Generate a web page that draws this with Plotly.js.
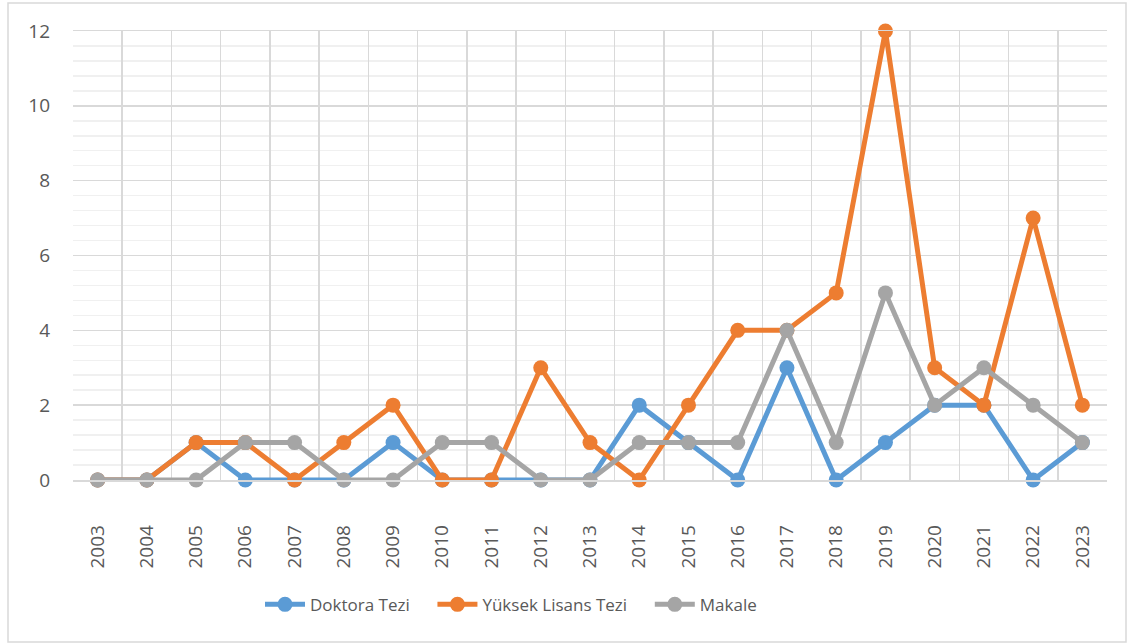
<!DOCTYPE html>
<html>
<head>
<meta charset="utf-8">
<script src="https://cdn.plot.ly/plotly-3.0.1.min.js"></script>
<style>html,body{margin:0;padding:0;background:#fff;}#chart{width:1134px;height:644px;}</style>
</head>
<body>
<div id="chart"></div>
<script>
const years = ["2003","2004","2005","2006","2007","2008","2009","2010","2011","2012","2013","2014","2015","2016","2017","2018","2019","2020","2021","2022","2023"];
const doktora = [0,0,1,0,0,0,1,0,0,0,0,2,1,0,3,0,1,2,2,0,1];
const yuksekLisans = [0,0,1,1,0,1,2,0,0,3,1,0,2,4,4,5,12,3,2,7,2];
const makale = [0,0,0,1,1,0,0,1,1,0,0,1,1,1,4,1,5,2,3,2,1];
const seriesNames = ["Doktora Tezi","Yüksek Lisans Tezi","Makale"];
const colors = ["#5B9BD5","#ED7D31","#A5A5A5"];

const pad = "\u00a0\u00a0\u00a0\u00a0";
const vals = [doktora, yuksekLisans, makale];
const traces = vals.map((v,i)=>({
  type:'scatter', mode:'lines+markers', x:years, y:v,
  name: seriesNames[i] + (i < 2 ? pad : ""),
  line:{color:colors[i], width:5},
  marker:{color:colors[i], size:15},
  cliponaxis:false
}));

const layout = {
  width:1134, height:644,
  margin:{l:73, r:27, t:31, b:164},
  paper_bgcolor:'#fff', plot_bgcolor:'#fff',
  font:{family:'"Open Sans", "Noto Sans", sans-serif', color:'#595959', size:18},
  showlegend:true,
  legend:{orientation:'h', x:0.4236, xanchor:'center', y:-0.278, yanchor:'middle',
          font:{size:17, color:'#595959'}, itemwidth:40, tracegroupgap:0},
  xaxis:{type:'category', range:[-0.5,20.5], tickson:'boundaries', showgrid:true, gridcolor:'#d9d9d9', gridwidth:1.5,
         showline:true, mirror:true, linecolor:'#d9d9d9', linewidth:1.5,
         ticks:'', tickangle:-90, tickfont:{size:19, color:'#595959'}, ticklabelstandoff:36,
         zeroline:false, fixedrange:true},
  yaxis:{range:[0,12], dtick:2, tick0:0, showgrid:true, gridcolor:'#d9d9d9', gridwidth:1.5,
         zeroline:false, showline:false, ticks:'', tickfont:{size:19, color:'#595959'},
         ticklabelstandoff:22,
         minor:{dtick:0.4, showgrid:true, gridcolor:'#f0f0f0', gridwidth:1.5},
         fixedrange:true},
  shapes:[{type:'rect', xref:'paper', yref:'paper',
           x0:(8-73)/1034, x1:(1126-73)/1034, y0:(480-642)/449, y1:(480-3)/449,
           line:{color:'#d9d9d9', width:1.5}, fillcolor:'rgba(0,0,0,0)', layer:'below'}]
};

Plotly.newPlot('chart', traces, layout, {displayModeBar:false, staticPlot:true});
</script>
</body>
</html>
